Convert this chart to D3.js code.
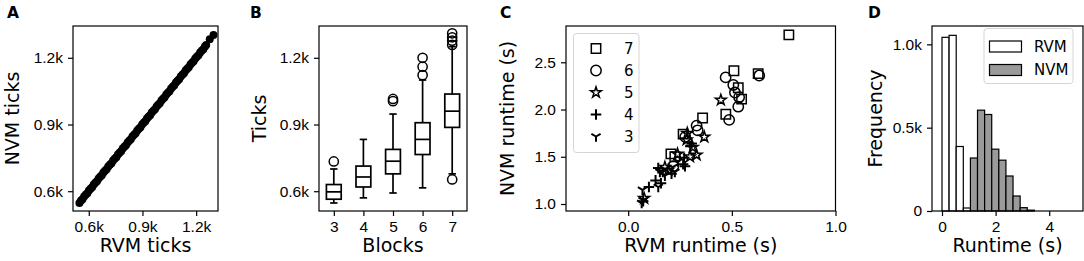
<!DOCTYPE html>
<html>
<head>
<meta charset="utf-8">
<script src="https://cdn.jsdelivr.net/npm/d3@7"></script>
<style>
  body { margin: 0; background: #fff; }
  svg { font-family: "DejaVu Sans", sans-serif; }
  .tick text { font-size: 15.5px; fill: #000; }
  .tick line { stroke: #000; stroke-width: 1.2; }
  .axis-label { font-size: 19px; }
  .panel-letter { font-size: 15.5px; font-weight: bold; }
</style>
</head>
<body>
<svg id="fig" width="1084" height="261"></svg>
<script>
// ---- data ----
// A: ticks per run, RVM vs NVM
const rvmTicks = [
  548, 557, 565, 574, 583, 592, 601, 610, 619, 628,
  637, 646, 655, 664, 673, 682, 691, 700, 709, 718,
  727, 736, 745, 754, 763, 772, 781, 790, 799, 808,
  817, 826, 835, 844, 853, 862, 871, 880, 889, 898,
  907, 916, 925, 934, 943, 952, 961, 970, 979, 988,
  997, 1006, 1015, 1024, 1033, 1042, 1051, 1060, 1069, 1078,
  1087, 1096, 1105, 1114, 1123, 1132, 1141, 1150, 1159, 1168,
  1177, 1186, 1195, 1204, 1213, 1222, 1231, 1240, 1249, 1256,
  1276, 1297
];
const nvmTicks = [
  547, 558, 564, 576, 584, 591, 603, 611, 618, 630,
  638, 645, 657, 665, 672, 684, 692, 699, 711, 719,
  726, 738, 746, 753, 765, 773, 780, 792, 800, 807,
  819, 827, 834, 846, 854, 861, 873, 881, 888, 900,
  908, 915, 927, 935, 942, 954, 962, 969, 981, 989,
  996, 1008, 1016, 1023, 1035, 1043, 1050, 1062, 1070, 1077,
  1089, 1097, 1104, 1116, 1124, 1131, 1143, 1151, 1158, 1170,
  1178, 1185, 1197, 1205, 1212, 1224, 1232, 1239, 1251, 1258,
  1283, 1302
];
const tickAxisValues = [600, 900, 1200];

// B: ticks per number of blocks (box plot summary)
const blocks = [3, 4, 5, 6, 7];
const whiskerLow = [547, 570, 592, 615, 678];
const quart1 = [564, 619, 678, 765, 887];
const medians = [597, 664, 735, 833, 960];
const quart3 = [630, 713, 788, 908, 1037];
const whiskerHigh = [700, 833, 947, 1100, 1250];
const outliers = [[734], [], [1005, 1015], [1122, 1160, 1200], [653, 1258, 1277, 1292, 1310]];

// C: runtime per run, [RVM s, NVM s], grouped by blocks
const runtime7 = [[0.775, 2.79], [0.510, 2.41], [0.627, 2.38], [0.531, 2.23], [0.547, 2.11],
  [0.471, 1.95], [0.359, 1.91], [0.265, 1.74], [0.206, 1.53], [0.225, 1.50]];
const runtime6 = [[0.632, 2.36], [0.470, 2.34], [0.507, 2.26], [0.515, 2.18], [0.535, 2.13],
  [0.531, 2.03], [0.487, 1.89], [0.330, 1.83], [0.335, 1.78], [0.275, 1.71], [0.218, 1.40]];
const runtime5 = [[0.447, 2.10], [0.367, 1.71], [0.285, 1.75], [0.282, 1.68], [0.311, 1.60],
  [0.330, 1.52], [0.298, 1.50], [0.238, 1.53], [0.177, 1.39], [0.193, 1.36], [0.077, 1.06]];
const runtime4 = [[0.306, 1.64], [0.300, 1.61], [0.270, 1.49], [0.274, 1.40], [0.265, 1.42],
  [0.209, 1.32], [0.158, 1.22], [0.145, 1.38], [0.072, 1.03], [0.132, 1.25], [0.100, 1.18]];
const runtime3 = [[0.225, 1.34], [0.153, 1.34], [0.177, 1.30], [0.145, 1.18], [0.069, 1.15],
  [0.072, 1.04], [0.065, 1.01], [0.214, 1.39], [0.240, 1.45], [0.167, 1.34]];
const runtimeXTicks = [0.0, 0.5, 1.0];
const runtimeYTicks = [1.0, 1.5, 2.0, 2.5];

// D: histogram of runtimes
const histEdges = [0, 0.265, 0.53, 0.795, 1.06, 1.325, 1.59, 1.855, 2.12, 2.385, 2.65, 2.915, 3.18, 3.445];
const rvmCounts = [1042, 1054, 387, 18, 0, 0, 0, 0, 0, 0, 0, 0, 0];
const nvmCounts = [0, 0, 0, 0, 318, 605, 579, 371, 305, 210, 90, 20, 5];
const histXTicks = [0, 2, 4];
const histYTicks = [0, 500, 1000];

// ---- helpers ----
const svg = d3.select('#fig');
const kFormat = d => (d === 0 ? '0' : (d / 1000).toFixed(1) + 'k');

function makePanel(letter, letterX) {
  const g = svg.append('g');
  svg.append('text').attr('class', 'panel-letter')
    .attr('x', letterX).attr('y', 18).text(letter);
  return g;
}

function drawAxes(g, box, x, y, xTicks, yTicks, xFmt, yFmt, xLabel, yLabel, yLabelX) {
  const xAxis = d3.axisBottom(x).tickValues(xTicks).tickFormat(xFmt).tickSize(5).tickPadding(5);
  const yAxis = d3.axisLeft(y).tickValues(yTicks).tickFormat(yFmt).tickSize(5).tickPadding(5);
  g.append('g').attr('transform', `translate(0,${box.bottom})`).call(xAxis)
    .call(a => a.select('.domain').remove());
  g.append('g').attr('transform', `translate(${box.left},0)`).call(yAxis)
    .call(a => a.select('.domain').remove());
  // frame
  g.append('rect')
    .attr('x', box.left).attr('y', box.top)
    .attr('width', box.right - box.left).attr('height', box.bottom - box.top)
    .attr('fill', 'none').attr('stroke', '#000').attr('stroke-width', 1.2);
  g.append('text').attr('class', 'axis-label')
    .attr('x', (box.left + box.right) / 2).attr('y', 252)
    .attr('text-anchor', 'middle').text(xLabel);
  const cy = (box.top + box.bottom) / 2;
  g.append('text').attr('class', 'axis-label')
    .attr('transform', `translate(${yLabelX},${cy}) rotate(-90)`)
    .attr('text-anchor', 'middle').attr('dy', '0.36em').text(yLabel);
}

// ---- A ----
{
  const box = { left: 73, right: 218, top: 26, bottom: 211 };
  const g = makePanel('A', 7);
  const x = d3.scaleLinear().domain([512, 1322]).range([box.left, box.right]);
  const y = d3.scaleLinear().domain([511, 1343]).range([box.bottom, box.top]);
  g.selectAll('circle.pt')
    .data(rvmTicks.map((d, i) => [d, nvmTicks[i]]))
    .join('circle').attr('class', 'pt')
    .attr('cx', d => x(d[0])).attr('cy', d => y(d[1]))
    .attr('r', 4).attr('fill', '#000');
  drawAxes(g, box, x, y, tickAxisValues, tickAxisValues, kFormat, kFormat,
    'RVM ticks', 'NVM ticks', 12.5);
}

// ---- B ----
{
  const box = { left: 319, right: 467, top: 26, bottom: 211 };
  const g = makePanel('B', 250);
  const x = d3.scaleLinear().domain([2.5, 7.5]).range([box.left, box.right]);
  const y = d3.scaleLinear().domain([511, 1343]).range([box.bottom, box.top]);
  const halfW = x(3.25) - x(3);   // box half width (0.25 units)
  const capW = halfW / 2;
  blocks.forEach((b, i) => {
    const cx = x(b);
    const bg = g.append('g').attr('stroke', '#000').attr('stroke-width', 1.7).attr('fill', 'none');
    bg.append('line').attr('x1', cx).attr('x2', cx).attr('y1', y(quart1[i])).attr('y2', y(whiskerLow[i]));
    bg.append('line').attr('x1', cx).attr('x2', cx).attr('y1', y(quart3[i])).attr('y2', y(whiskerHigh[i]));
    bg.append('line').attr('x1', cx - capW).attr('x2', cx + capW).attr('y1', y(whiskerLow[i])).attr('y2', y(whiskerLow[i]));
    bg.append('line').attr('x1', cx - capW).attr('x2', cx + capW).attr('y1', y(whiskerHigh[i])).attr('y2', y(whiskerHigh[i]));
    bg.append('rect').attr('x', cx - halfW).attr('width', 2 * halfW)
      .attr('y', y(quart3[i])).attr('height', y(quart1[i]) - y(quart3[i]));
    bg.append('line').attr('x1', cx - halfW).attr('x2', cx + halfW).attr('y1', y(medians[i])).attr('y2', y(medians[i]));
    bg.selectAll('circle').data(outliers[i]).join('circle')
      .attr('cx', cx).attr('cy', d => y(d)).attr('r', 4.6).attr('stroke-width', 1.5);
  });
  drawAxes(g, box, x, y, blocks, tickAxisValues, d3.format('d'), kFormat,
    'Blocks', 'Ticks', 259);
}

// ---- C ----
{
  const box = { left: 566, right: 835.5, top: 26, bottom: 211 };
  const g = makePanel('C', 500);
  const x = d3.scaleLinear().domain([-0.3, 1.0]).range([box.left, box.right]);
  const y = d3.scaleLinear().domain([0.926, 2.884]).range([box.bottom, box.top]);
  const plusPath = 'M-5.3,0H5.3M0,-5.3V5.3';
  const triPath = 'M0,0V5.3M0,0L-4.6,-2.65M0,0L4.6,-2.65';
  const groups = [
    { label: '7', data: runtime7, path: d3.symbol(d3.symbolSquare, 88)() },
    { label: '6', data: runtime6, path: d3.symbol(d3.symbolCircle, 84)() },
    { label: '5', data: runtime5, path: d3.symbol(d3.symbolStar, 36)() },
    { label: '4', data: runtime4, path: plusPath, thick: true },
    { label: '3', data: runtime3, path: triPath, thick: true }
  ];
  groups.slice().reverse().forEach(grp => {
    g.selectAll(null).data(grp.data).join('path')
      .attr('transform', d => `translate(${x(d[0])},${y(d[1])})`)
      .attr('d', grp.path).attr('fill', 'none').attr('stroke', '#000')
      .attr('stroke-width', grp.thick ? 2 : 1.5);
  });
  drawAxes(g, box, x, y, runtimeXTicks, runtimeYTicks, d3.format('.1f'), d3.format('.1f'),
    'RVM runtime (s)', 'NVM runtime (s)', 507.5);
  // legend
  const lg = g.append('g');
  lg.append('rect').attr('x', 573.5).attr('y', 33.5).attr('width', 65.5).attr('height', 119)
    .attr('rx', 3).attr('fill', '#fff').attr('fill-opacity', 0.8).attr('stroke', '#d5d5d5');
  groups.forEach((grp, i) => {
    const ly = 48.5 + i * 22;
    lg.append('path').attr('transform', `translate(596,${ly})`).attr('d', grp.path)
      .attr('fill', 'none').attr('stroke', '#000').attr('stroke-width', grp.thick ? 2 : 1.5);
    lg.append('text').attr('x', 624).attr('y', ly).attr('dy', '0.36em')
      .attr('font-size', 15).text(grp.label);
  });
}

// ---- D ----
{
  const box = { left: 932, right: 1083, top: 26, bottom: 211 };
  const g = makePanel('D', 868);
  const x = d3.scaleLinear().domain([-0.373, 5.26]).range([box.left, box.right]);
  const y = d3.scaleLinear().domain([0, 1110]).range([box.bottom, box.top]);
  const series = [
    { name: 'RVM', counts: rvmCounts, fill: '#fff' },
    { name: 'NVM', counts: nvmCounts, fill: '#9a9a9a' }
  ];
  series.forEach(s => {
    const bins = s.counts.map((c, i) => ({ x0: histEdges[i], x1: histEdges[i + 1], c }))
      .filter(b => b.c > 0);
    g.selectAll(null).data(bins).join('rect')
      .attr('x', b => x(b.x0)).attr('width', b => x(b.x1) - x(b.x0))
      .attr('y', b => y(b.c)).attr('height', b => y(0) - y(b.c))
      .attr('fill', s.fill).attr('stroke', '#000').attr('stroke-width', 1.2);
  });
  drawAxes(g, box, x, y, histXTicks, histYTicks, d3.format('d'), kFormat,
    'Runtime (s)', 'Frequency', 875.5);
  const lg = g.append('g');
  lg.append('rect').attr('x', 984).attr('y', 28.5).attr('width', 89).attr('height', 55)
    .attr('rx', 3).attr('fill', '#fff').attr('fill-opacity', 0.8).attr('stroke', '#d5d5d5');
  series.forEach((s, i) => {
    const ly = 46.5 + i * 23.5;
    lg.append('rect').attr('x', 989.5).attr('y', ly - 5.5).attr('width', 32).attr('height', 11)
      .attr('fill', s.fill).attr('stroke', '#000').attr('stroke-width', 1.2);
    lg.append('text').attr('x', 1034).attr('y', ly).attr('dy', '0.36em')
      .attr('font-size', 15).text(s.name);
  });
}
</script>
</body>
</html>
